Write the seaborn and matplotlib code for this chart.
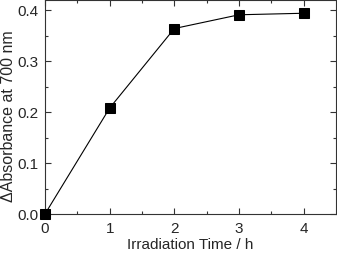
import numpy as np
import pandas as pd
import matplotlib
matplotlib.use("Agg")
import matplotlib.pyplot as plt
import seaborn as sns

# Data
time_h = [0, 1, 2, 3, 4]
d_abs = [0.0, 0.208, 0.364, 0.391, 0.394]

df = pd.DataFrame({"time": time_h, "dabs": d_abs})

sns.set_style("ticks")
plt.rcParams['font.family'] = ['Liberation Sans', 'DejaVu Sans']

fig = plt.figure(figsize=(3.37, 2.54), dpi=100)
ax = fig.add_axes([45/337, 1 - 214/254, (336-45)/337, 214/254])

sns.lineplot(data=df, x="time", y="dabs", ax=ax, color="black", linewidth=0.8,
             marker="s", markersize=7.5, markeredgecolor="black", clip_on=False, zorder=3)

ax.set_xlim(0, 4.5)
ax.set_ylim(0, 0.42)
ax.set_xticks([0, 1, 2, 3, 4])
ax.set_yticks([0.0, 0.1, 0.2, 0.3, 0.4])
ax.set_yticklabels(["0.0", "0.1", "0.2", "0.3", "0.4"])
ax.set_xticks(np.arange(0.5, 4.5, 1.0), minor=True)
ax.set_yticks(np.arange(0.05, 0.42, 0.1), minor=True)
ax.tick_params(which="both", direction="in", top=True, right=True, width=0.8, color="#333333")
ax.tick_params(which="major", length=4, labelsize=11)
ax.tick_params(which="minor", length=2.5)
ax.tick_params(axis="x", which="major", pad=6)
ax.tick_params(axis="y", which="major", pad=5)
for s in ax.spines.values():
    s.set_linewidth(0.8)
    s.set_color("#333333")

ax.set_xlabel("Irradiation Time / h", fontsize=11, labelpad=1.5)
ax.set_ylabel("ΔAbsorbance at 700 nm", fontsize=11.5)
ax.yaxis.set_label_coords(-29/291, 0.455)

fig.savefig("out.png", dpi=100)
